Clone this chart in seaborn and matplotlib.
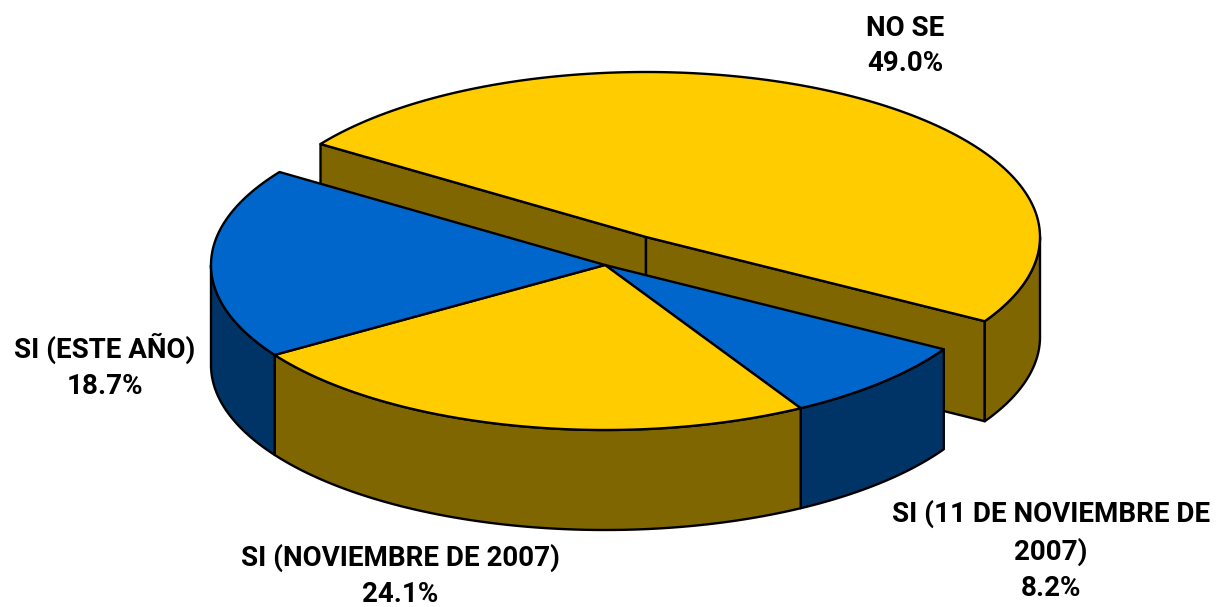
import numpy as np
import seaborn as sns
import matplotlib
matplotlib.use("Agg")
import matplotlib.pyplot as plt

# Data
labels = ["NO SE", "SI (11 DE NOVIEMBRE DE\n2007)", "SI (NOVIEMBRE DE 2007)", "SI (ESTE AÑO)"]
values = [49.0, 8.2, 24.1, 18.7]
top_colors = ["#FFCC00", "#0066CC", "#FFCC00", "#0066CC"]
side_colors = ["#806600", "#003366", "#806600", "#003366"]
explode = [1, 0, 0, 0]

sns.set_theme(style="white")
plt.rcParams["font.family"] = ["Roboto", "DejaVu Sans"]

# Pie geometry in pixels
cx, cy = 605, 265
rx, ry = 394, 165
depth = 100
shift_x, shift_y = 41, -28
start_angle = 145.7
label_pos = [(905, 46), (1051, 551), (400, 576), (105, 366)]


def rim(x0, y0, a1, a2):
    t = np.radians(np.linspace(a1, a2, 200))
    return x0 + rx * np.cos(t), y0 - ry * np.sin(t)


def draw_slice(a1, a2, top, side, x0, y0, cut_walls):
    # cut faces go first, only the exploded slice shows them
    if cut_walls:
        for a in (a1, a2):
            ex = x0 + rx * np.cos(np.radians(a))
            ey = y0 - ry * np.sin(np.radians(a))
            ax.fill([x0, ex, ex, x0], [y0, ey, ey + depth, y0 + depth],
                    facecolor=side, edgecolor="black", lw=1.7, joinstyle="round")
    # outer wall, only the front half of the ellipse can be seen
    lo, hi = a2, a1
    for k in (-360, 0):
        w1 = max(lo, 180 + k)
        w2 = min(hi, 360 + k)
        if w2 > w1:
            xs, ys = rim(x0, y0, w1, w2)
            ax.fill(np.r_[xs, xs[::-1]], np.r_[ys, ys[::-1] + depth],
                    facecolor=side, edgecolor="black", lw=1.7, joinstyle="round")
    xs, ys = rim(x0, y0, a1, a2)
    ax.fill(np.r_[x0, xs], np.r_[y0, ys], facecolor=top, edgecolor="black",
            lw=1.7, joinstyle="round")


fig = plt.figure(figsize=(12.16, 6.07), dpi=100)
ax = fig.add_axes([0, 0, 1, 1])
ax.set_xlim(0, 1216)
ax.set_ylim(607, 0)
ax.axis("off")

sweeps = np.array(values) / sum(values) * 360
starts = start_angle - np.r_[0, np.cumsum(sweeps)[:-1]]
ends = starts - sweeps

# Exploded slice sits behind the others
for i in np.argsort([-e for e in explode]):
    x0 = cx + shift_x * explode[i]
    y0 = cy + shift_y * explode[i]
    draw_slice(starts[i], ends[i], top_colors[i], side_colors[i], x0, y0, explode[i] == 1)

for name, val, (lx, ly) in zip(labels, values, label_pos):
    ax.text(lx, ly, f"{name}\n{val:.1f}%", ha="center", va="center", fontsize=20,
            fontweight="bold", color="black", linespacing=1.42)

fig.savefig("out.png", dpi=100, facecolor="white")
